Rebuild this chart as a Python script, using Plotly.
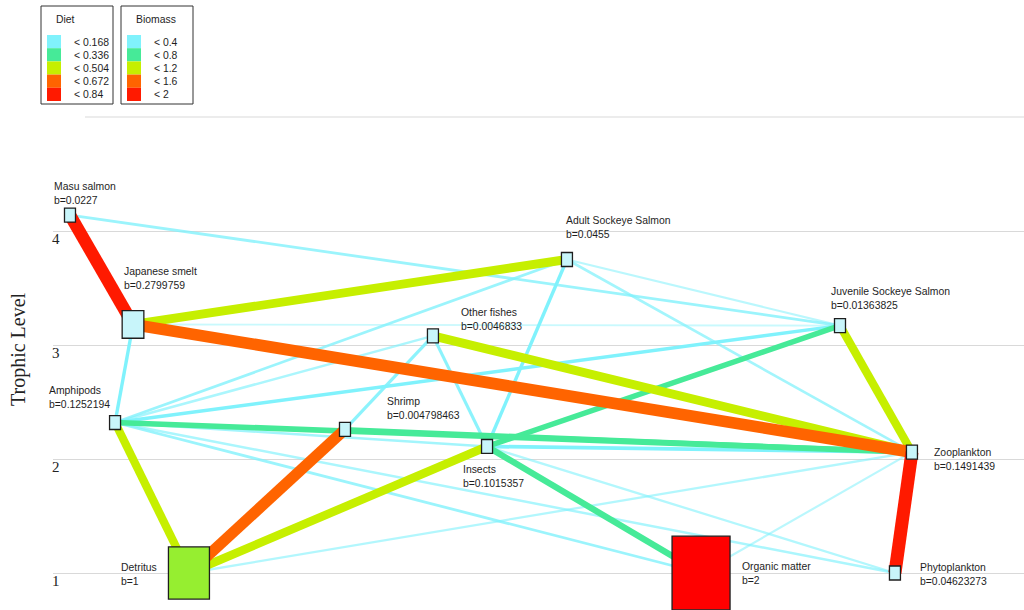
import math
import plotly.graph_objects as go

# ---------------------------------------------------------------
# Food-web compartments
# ---------------------------------------------------------------
NODES = ["Masu salmon", "Japanese smelt", "Adult Sockeye Salmon",
         "Juvenile Sockeye Salmon", "Other fishes", "Amphipods", "Shrimp",
         "Insects", "Zooplankton", "Detritus", "Organic matter", "Phytoplankton"]
BIOMASS = [0.0227, 0.2799759, 0.0455, 0.01363825, 0.0046833, 0.1252194,
           0.004798463, 0.1015357, 0.1491439, 1, 2, 0.04623273]
TROPHIC_LEVEL = [4.14, 3.18, 3.75, 3.17, 3.08, 2.32, 2.26, 2.11, 2.06,
                 1.0, 1.0, 1.0]
# horizontal placement of each compartment in the web layout (0-100)
WEB_X = [1.75, 8.24, 52.93, 81.05, 39.13, 6.39, 30.07, 44.70, 88.46,
         14.0, 66.74, 86.71]

# ---------------------------------------------------------------
# Trophic links: prey -> predator, with diet fraction
# ---------------------------------------------------------------
PREY = ["Japanese smelt", "Zooplankton", "Japanese smelt", "Amphipods",
        "Juvenile Sockeye Salmon", "Zooplankton", "Zooplankton", "Detritus",
        "Detritus", "Detritus", "Phytoplankton", "Organic matter",
        "Zooplankton", "Zooplankton", "Insects", "Insects", "Insects",
        "Shrimp", "Amphipods", "Amphipods", "Amphipods", "Amphipods",
        "Organic matter", "Phytoplankton", "Juvenile Sockeye Salmon",
        "Zooplankton", "Detritus", "Organic matter", "Phytoplankton",
        "Juvenile Sockeye Salmon", "Zooplankton"]
PREDATOR = ["Masu salmon", "Japanese smelt", "Adult Sockeye Salmon",
            "Japanese smelt", "Masu salmon", "Other fishes",
            "Juvenile Sockeye Salmon", "Amphipods", "Insects", "Shrimp",
            "Zooplankton", "Insects", "Amphipods", "Shrimp",
            "Juvenile Sockeye Salmon", "Adult Sockeye Salmon", "Other fishes",
            "Other fishes", "Other fishes", "Juvenile Sockeye Salmon",
            "Adult Sockeye Salmon", "Insects", "Amphipods", "Amphipods",
            "Adult Sockeye Salmon", "Adult Sockeye Salmon", "Zooplankton",
            "Zooplankton", "Insects", "Japanese smelt", "Insects"]
DIET = [0.69, 0.64, 0.46, 0.12, 0.08, 0.46, 0.42, 0.42, 0.44, 0.60, 0.72,
        0.30, 0.26, 0.20, 0.25, 0.12, 0.10, 0.10, 0.06, 0.12, 0.08, 0.07,
        0.08, 0.06, 0.04, 0.07, 0.05, 0.04, 0.05, 0.02, 0.14]

# Legend classes
DIET_BREAKS = [0.168, 0.336, 0.504, 0.672, 0.84]
BIOMASS_BREAKS = [0.4, 0.8, 1.2, 1.6, 2]
Y_TICKS = [1, 2, 3, 4]

# ---------------------------------------------------------------
# Styling
# ---------------------------------------------------------------
W, H = 1024, 610
PLOT_LEFT = 53
CLASS_COLORS = ["#80f2fc", "#46ea98", "#c6ef00", "#ff6400", "#ff1a00"]
NODE_FILLS = ["#c8f5fa", "#5ee8a0", "#96ee30", "#ff6400", "#ff0000"]
LABEL_FONT = dict(family="Liberation Sans, Arial, sans-serif", size=10.4,
                  color="#1e1e1e")
SERIF = "Liberation Serif, Times New Roman, serif"

# label block top-left corner relative to the node centre (pixels, y down)
LABEL_OFFSETS = {
    "Masu salmon": (-17, -35), "Japanese smelt": (-10, -59),
    "Adult Sockeye Salmon": (-2, -46), "Juvenile Sockeye Salmon": (-10, -41),
    "Other fishes": (27, -30), "Amphipods": (-67, -39), "Shrimp": (41, -34),
    "Insects": (-25, 17), "Zooplankton": (21, -6), "Detritus": (-69, -12),
    "Organic matter": (40, -13), "Phytoplankton": (24, -12),
}


def class_index(value, breaks):
    for i, b in enumerate(breaks):
        if value < b:
            return i
    return len(breaks) - 1


def px(xp):
    return xp / W


def py(yp):
    return 1 - yp / H


pos = {n: (x, t) for n, x, t in zip(NODES, WEB_X, TROPHIC_LEVEL)}

fig = go.Figure()

# links, thin ones first so heavy flows sit on top
order = sorted(range(len(DIET)), key=lambda i: DIET[i])
for i in order:
    a, b, d = PREY[i], PREDATOR[i], DIET[i]
    k = class_index(d, DIET_BREAKS)
    opacity = min(1.0, 0.3 + d * 6) if k == 0 else 1.0
    fig.add_trace(go.Scatter(
        x=[pos[a][0], pos[b][0]], y=[pos[a][1], pos[b][1]],
        mode="lines", line=dict(color=CLASS_COLORS[k], width=1.5 + 16 * d),
        opacity=opacity, hoverinfo="skip", showlegend=False))

shapes = []
annotations = []

# compartment boxes, area proportional to biomass
for n, x, t, bm in zip(NODES, WEB_X, TROPHIC_LEVEL, BIOMASS):
    w = 41 * math.sqrt(bm) if bm >= 0.2 else 11
    h = w * 1.27
    shapes.append(dict(
        type="rect", xref="x", yref="y", xsizemode="pixel", ysizemode="pixel",
        xanchor=x, yanchor=t, x0=-w / 2, x1=w / 2, y0=-h / 2, y1=h / 2,
        fillcolor=NODE_FILLS[class_index(bm, BIOMASS_BREAKS)],
        line=dict(color="#1e1e1e", width=1.3), layer="above"))
    dx, dy = LABEL_OFFSETS[n]
    annotations.append(dict(
        x=x, y=t, xref="x", yref="y", xshift=dx, yshift=-dy,
        xanchor="left", yanchor="top", align="left", showarrow=False,
        text=f"{n}<br>b={bm}", font=LABEL_FONT, borderpad=0))

# upper reference line
shapes.append(dict(type="line", xref="paper", yref="y", x0=px(85), x1=1,
                   y0=5, y1=5, line=dict(color="#d9d9d9", width=1),
                   layer="below"))

# legends
def add_legend(left, title, breaks):
    shapes.append(dict(type="rect", xref="paper", yref="paper",
                       x0=px(left), x1=px(left + 72), y0=py(104), y1=py(6),
                       line=dict(color="#333333", width=1),
                       fillcolor="white"))
    annotations.append(dict(x=px(left + 13), y=py(19), xref="paper",
                            yref="paper", xanchor="left", yanchor="middle",
                            text=title, showarrow=False, font=LABEL_FONT))
    row = 13.2
    for j, b in enumerate(breaks):
        top = 35 + j * row
        shapes.append(dict(type="rect", xref="paper", yref="paper",
                           x0=px(left + 6), x1=px(left + 20),
                           y0=py(top + row), y1=py(top),
                           line=dict(width=0), fillcolor=CLASS_COLORS[j]))
        annotations.append(dict(x=px(left + 31), y=py(top + row / 2 + 0.5),
                                xref="paper", yref="paper", xanchor="left",
                                yanchor="middle", text=f"< {b:g}",
                                showarrow=False, font=LABEL_FONT))


add_legend(41, "Diet", DIET_BREAKS)
add_legend(121, "Biomass", BIOMASS_BREAKS)

annotations.append(dict(x=px(18), y=py(349), xref="paper", yref="paper",
                        text="Trophic Level", textangle=-90, showarrow=False,
                        font=dict(family=SERIF, size=20, color="#222222"),
                        xanchor="center", yanchor="middle"))

# level 1 at y=573 px, 114 px per trophic level
y_lo = 1 - (H - 573) / 114
y_hi = 1 + 573 / 114

fig.update_layout(
    width=W, height=H, margin=dict(l=0, r=0, t=0, b=0),
    paper_bgcolor="white", plot_bgcolor="white",
    shapes=shapes, annotations=annotations, showlegend=False,
    xaxis=dict(domain=[PLOT_LEFT / W, 1], range=[0, 100], visible=False),
    yaxis=dict(range=[y_lo, y_hi], tickvals=Y_TICKS,
               ticktext=[str(v) for v in Y_TICKS],
               showgrid=True, gridcolor="#d9d9d9", gridwidth=1,
               zeroline=False, showline=False, ticks="",
               ticklabelposition="inside", ticklabelshift=8,
               ticklabelstandoff=-4,
               tickfont=dict(family=SERIF, size=15, color="#222222")),
)

fig.write_html("out.html")
